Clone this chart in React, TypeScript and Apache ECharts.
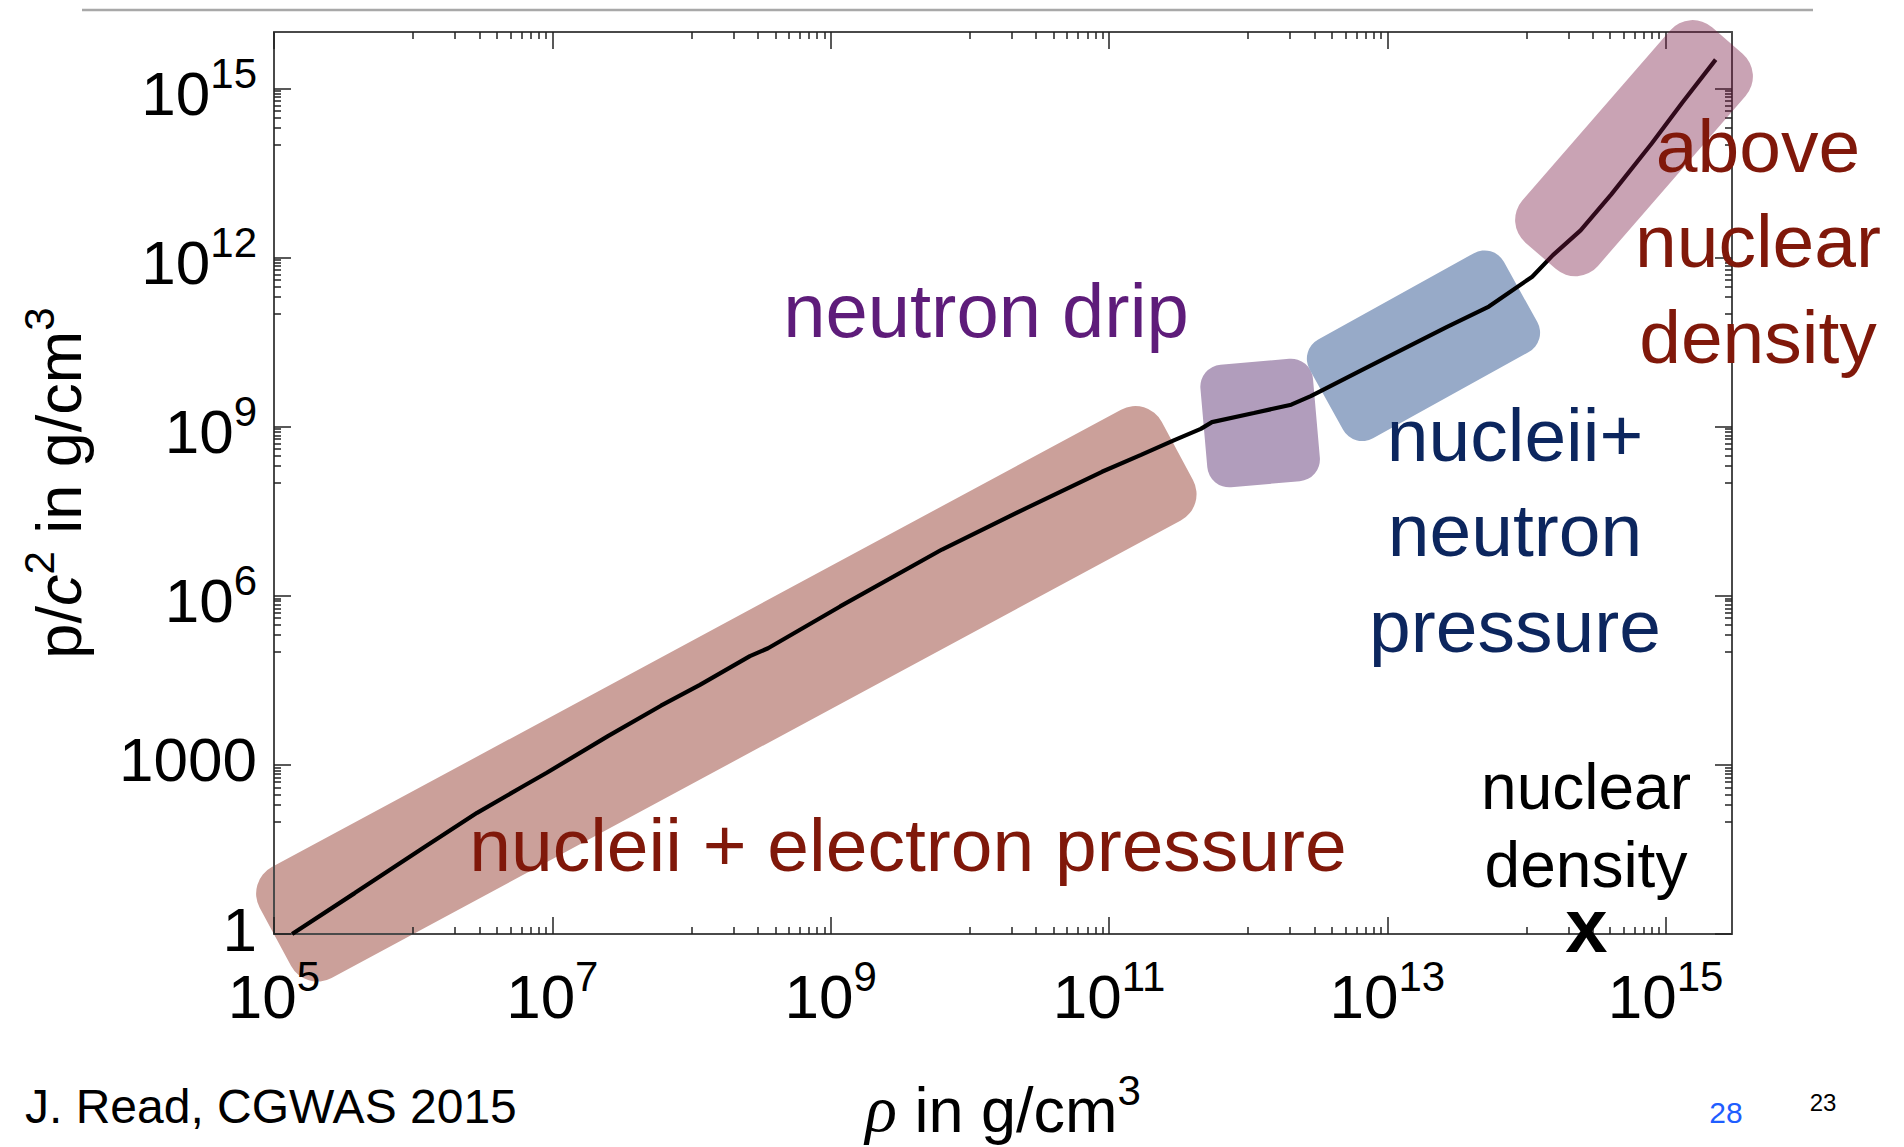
import React, { useEffect, useRef } from 'react';
import * as echarts from 'echarts';

// ---- Equation of state curve ----
const densityRho: number[] = [
  1.35e5, 3.8e5, 1.2e6, 2.88e6, 6.17e6, 9.12e6, 2.51e7, 6.03e7, 1.15e8, 2.63e8,
  3.55e8, 1.17e9, 6.31e9, 2.57e10, 8.91e10, 1.7e11, 2.95e11, 4.57e11, 5.5e11, 1.1e12,
  2.04e12, 2.82e12, 6.76e12, 2.69e13, 5.37e13, 1.1e14, 1.55e14, 2.45e14, 4.07e14, 7.94e14,
  1.32e15, 2.29e15,
];
const pressureOverC2: number[] = [
  1.0, 5.31, 34.7, 141, 417, 724, 3.24e3, 1.12e4, 2.63e4, 8.51e4,
  1.17e5, 6.46e5, 6.61e6, 3.63e7, 1.58e8, 3.16e8, 5.75e8, 9.12e8, 1.2e9, 1.74e9,
  2.45e9, 3.47e9, 1.05e10, 5.89e10, 1.35e11, 4.57e11, 1.1e12, 3.02e12, 1.32e13, 1.05e14,
  5.62e14, 3.24e15,
];

// ---- Highlighted regions: centres in data coordinates ----
const regionNames = ['nucleii + electron pressure', 'neutron drip', 'nucleii + neutron pressure', 'above nuclear density'];
const regionRho: number[] = [1.78e8, 1.22e12, 1.82e13, 5.93e14];
const regionP: number[] = [1.82e4, 1.16e9, 2.72e10, 8.7e13];

// ---- Nuclear density marker ----
const nuclearRho: number[] = [2.7e14];
const nuclearP: number[] = [1];

// ---- Axis ticks ----
const xTickValues: number[] = [1e5, 1e7, 1e9, 1e11, 1e13, 1e15];
const xTickBase: string[] = ['10', '10', '10', '10', '10', '10'];
const xTickSup: string[] = ['5', '7', '9', '11', '13', '15'];
const yTickValues: number[] = [1, 1e3, 1e6, 1e9, 1e12, 1e15];
const yTickBase: string[] = ['1', '1000', '10', '10', '10', '10'];
const yTickSup: string[] = ['', '', '6', '9', '12', '15'];

const X_MIN = 1e5;
const X_MAX = 3e15;
const Y_MIN = 1;
const Y_MAX = 1e16;

const FONT = '"Liberation Sans", Arial, Helvetica, sans-serif';
const SERIF = '"Liberation Serif", "DejaVu Serif", serif';

const regionStyles = [
  { w: 1025, h: 126, r: 30, angle: 28.3, fill: '#CBA09A' },
  { w: 113, h: 123, r: 22, angle: 5, fill: '#B19DBC' },
  { w: 222, h: 113, r: 22, angle: 29, fill: '#97AAC8' },
  { w: 285, h: 100, r: 30, angle: 49, fill: 'rgba(120,25,68,0.4)' },
];

function minorTicks(majors: number[], min: number, max: number): number[] {
  const out: number[] = [];
  majors.forEach((m) => {
    for (let k = 1; k <= 9; k++) {
      const v = (k * m) / 10;
      if (v >= min && v <= max && v < m) out.push(v);
    }
  });
  return out;
}

function labelFormatter(vals: number[], base: string[], sup: string[]) {
  return (value: number) => {
    const i = vals.findIndex((v) => Math.abs(Math.log10(v) - Math.log10(value)) < 1e-6);
    if (i < 0) return '';
    return sup[i] ? `{b|${base[i]}}{s|${sup[i]}}` : `{p|${base[i]}}`;
  };
}

const tickRich = {
  b: { fontFamily: FONT, fontSize: 62, lineHeight: 72, verticalAlign: 'bottom', color: '#000' },
  s: { fontFamily: FONT, fontSize: 42, lineHeight: 18, verticalAlign: 'top', color: '#000' },
  p: { fontFamily: FONT, fontSize: 62, lineHeight: 72, verticalAlign: 'top', color: '#000' },
};

const nameRich = {
  t: { fontFamily: FONT, fontSize: 63, lineHeight: 72, verticalAlign: 'bottom', color: '#000' },
  i: { fontFamily: FONT, fontSize: 63, lineHeight: 72, verticalAlign: 'bottom', fontStyle: 'italic', color: '#000' },
  r: { fontFamily: SERIF, fontSize: 66, lineHeight: 72, verticalAlign: 'bottom', fontStyle: 'italic', color: '#000' },
  s: { fontFamily: FONT, fontSize: 42, lineHeight: 18, verticalAlign: 'top', color: '#000' },
};

function makeRegion(offset: number) {
  return (params: any, api: any) => {
    const s = regionStyles[params.dataIndex + offset];
    const c = api.coord([api.value(0), api.value(1)]);
    return {
      type: 'rect',
      x: c[0],
      y: c[1],
      rotation: (s.angle * Math.PI) / 180,
      shape: { x: -s.w / 2, y: -s.h / 2, width: s.w, height: s.h, r: s.r },
      style: { fill: s.fill },
    };
  };
}

function renderMarker(_params: any, api: any) {
  const c = api.coord([api.value(0), api.value(1)]);
  return {
    type: 'text',
    x: c[0],
    y: c[1] - 9,
    style: {
      text: 'x',
      fontFamily: FONT,
      fontSize: 76,
      fontWeight: 'bold',
      lineHeight: 40,
      fill: '#000',
      align: 'center',
      verticalAlign: 'middle',
    },
  };
}

export default function App() {
  const ref = useRef<HTMLDivElement>(null);

  useEffect(() => {
    if (!ref.current) return;
    const chart = echarts.init(ref.current, undefined, { renderer: 'svg' });

    const xMinor = minorTicks(xTickValues, X_MIN, X_MAX);
    const yMinor = minorTicks(yTickValues, Y_MIN, Y_MAX);
    const frameLine = { show: true, lineStyle: { color: '#4a4a4a', width: 2 } };
    const tickLine = { color: '#222', width: 1.5 };
    const common = (min: number, max: number) => ({
      type: 'log',
      logBase: 10,
      min,
      max,
      z: 3,
      silent: true,
      splitLine: { show: false },
      minorTick: { show: false },
      axisPointer: { show: false },
    });

    const linePoints = densityRho.map((r, i) => [r, pressureOverC2[i]]);
    const regionPoints = regionRho.map((r, i) => [r, regionP[i]]);

    const option: any = {
      animation: false,
      backgroundColor: '#ffffff',
      textStyle: { fontFamily: FONT },
      grid: { left: 274, right: 172, top: 32, bottom: 213, containLabel: false, outerBoundsMode: 'none' },
      xAxis: [
        {
          ...common(X_MIN, X_MAX),
          position: 'bottom',
          axisLine: frameLine,
          axisTick: { show: true, inside: true, length: 17, customValues: xTickValues, lineStyle: tickLine },
          axisLabel: {
            show: true,
            customValues: xTickValues,
            formatter: labelFormatter(xTickValues, xTickBase, xTickSup),
            rich: tickRich,
            margin: 21,
          },
          name: '{r|ρ}{t| in g/cm}{s|3}',
          nameLocation: 'middle',
          nameGap: 135,
          nameTextStyle: { rich: nameRich, fontSize: 63, color: '#000' },
        },
        {
          ...common(X_MIN, X_MAX),
          position: 'bottom',
          axisLine: { show: false },
          axisTick: { show: true, inside: true, length: 7, customValues: xMinor, lineStyle: tickLine },
          axisLabel: { show: false },
        },
        {
          ...common(X_MIN, X_MAX),
          position: 'top',
          axisLine: frameLine,
          axisTick: { show: true, inside: true, length: 17, customValues: xTickValues, lineStyle: tickLine },
          axisLabel: { show: false },
        },
        {
          ...common(X_MIN, X_MAX),
          position: 'top',
          axisLine: { show: false },
          axisTick: { show: true, inside: true, length: 7, customValues: xMinor, lineStyle: tickLine },
          axisLabel: { show: false },
        },
      ],
      yAxis: [
        {
          ...common(Y_MIN, Y_MAX),
          position: 'left',
          axisLine: frameLine,
          axisTick: { show: true, inside: true, length: 17, customValues: yTickValues, lineStyle: tickLine },
          axisLabel: {
            show: true,
            customValues: yTickValues,
            formatter: labelFormatter(yTickValues, yTickBase, yTickSup),
            rich: tickRich,
            margin: 17,
          },
          name: '{t|p/}{i|c}{s|2}{t| in g/cm}{s|3}',
          nameLocation: 'middle',
          nameRotate: 90,
          nameGap: 184,
          nameTextStyle: { rich: nameRich, fontSize: 63, color: '#000' },
        },
        {
          ...common(Y_MIN, Y_MAX),
          position: 'left',
          axisLine: { show: false },
          axisTick: { show: true, inside: true, length: 7, customValues: yMinor, lineStyle: tickLine },
          axisLabel: { show: false },
        },
        {
          ...common(Y_MIN, Y_MAX),
          position: 'right',
          axisLine: frameLine,
          axisTick: { show: true, inside: true, length: 17, customValues: yTickValues, lineStyle: tickLine },
          axisLabel: { show: false },
        },
        {
          ...common(Y_MIN, Y_MAX),
          position: 'right',
          axisLine: { show: false },
          axisTick: { show: true, inside: true, length: 7, customValues: yMinor, lineStyle: tickLine },
          axisLabel: { show: false },
        },
      ],
      series: [
        {
          type: 'custom',
          name: 'regions',
          xAxisIndex: 0,
          yAxisIndex: 0,
          z: 1,
          silent: true,
          clip: false,
          data: regionPoints.slice(0, 3),
          renderItem: makeRegion(0),
        },
        {
          type: 'line',
          name: 'EOS',
          xAxisIndex: 0,
          yAxisIndex: 0,
          data: linePoints,
          showSymbol: false,
          symbol: 'none',
          lineStyle: { color: '#000', width: 4.2 },
          z: 4,
          silent: true,
          clip: false,
        },
        {
          type: 'custom',
          name: regionNames[3],
          xAxisIndex: 0,
          yAxisIndex: 0,
          z: 5,
          silent: true,
          clip: false,
          data: regionPoints.slice(3),
          renderItem: makeRegion(3),
        },
        {
          type: 'custom',
          name: 'nuclear density',
          xAxisIndex: 0,
          yAxisIndex: 0,
          data: nuclearRho.map((r, i) => [r, nuclearP[i]]),
          renderItem: renderMarker,
          z: 6,
          clip: false,
          silent: true,
        },
      ],
      graphic: {
        elements: [
          { type: 'line', z: 10, shape: { x1: 82, y1: 10, x2: 1813, y2: 10 }, style: { stroke: '#a8a8a8', lineWidth: 2.5 } },
          { type: 'text', z: 10, x: 986, y: 310, style: { text: 'neutron drip', fontFamily: FONT, fontSize: 76, fill: '#5E1C7A', align: 'center', verticalAlign: 'middle' } },
          { type: 'text', z: 10, x: 908, y: 845, style: { text: 'nucleii + electron pressure', fontFamily: FONT, fontSize: 75, fill: '#80180A', align: 'center', verticalAlign: 'middle' } },
          { type: 'text', z: 10, x: 1515, y: 530, style: { text: 'nucleii+\nneutron\npressure', fontFamily: FONT, fontSize: 75, lineHeight: 95.5, fill: '#0C265E', align: 'center', verticalAlign: 'middle' } },
          { type: 'text', z: 10, x: 1758, y: 241, style: { text: 'above\nnuclear\ndensity', fontFamily: FONT, fontSize: 75, lineHeight: 95.5, fill: '#80180A', align: 'center', verticalAlign: 'middle' } },
          { type: 'text', z: 10, x: 1586, y: 826, style: { text: 'nuclear\ndensity', fontFamily: FONT, fontSize: 64, lineHeight: 78, fill: '#000', align: 'center', verticalAlign: 'middle' } },
          { type: 'text', z: 10, x: 25, y: 1106, style: { text: 'J. Read, CGWAS 2015', fontFamily: FONT, fontSize: 48, fill: '#000', align: 'left', verticalAlign: 'middle' } },
          { type: 'text', z: 10, x: 1726, y: 1112, style: { text: '28', fontFamily: FONT, fontSize: 30, fill: '#1F5EFF', align: 'center', verticalAlign: 'middle' } },
          { type: 'text', z: 10, x: 1823, y: 1102, style: { text: '23', fontFamily: FONT, fontSize: 24, fill: '#000', align: 'center', verticalAlign: 'middle' } },
        ],
      },
    };

    chart.setOption(option);
    return () => {
      chart.dispose();
    };
  }, []);

  return (
    <div
      ref={ref}
      style={{ position: 'absolute', left: 0, top: 0, width: 1904, height: 1147, background: '#fff' }}
    />
  );
}
